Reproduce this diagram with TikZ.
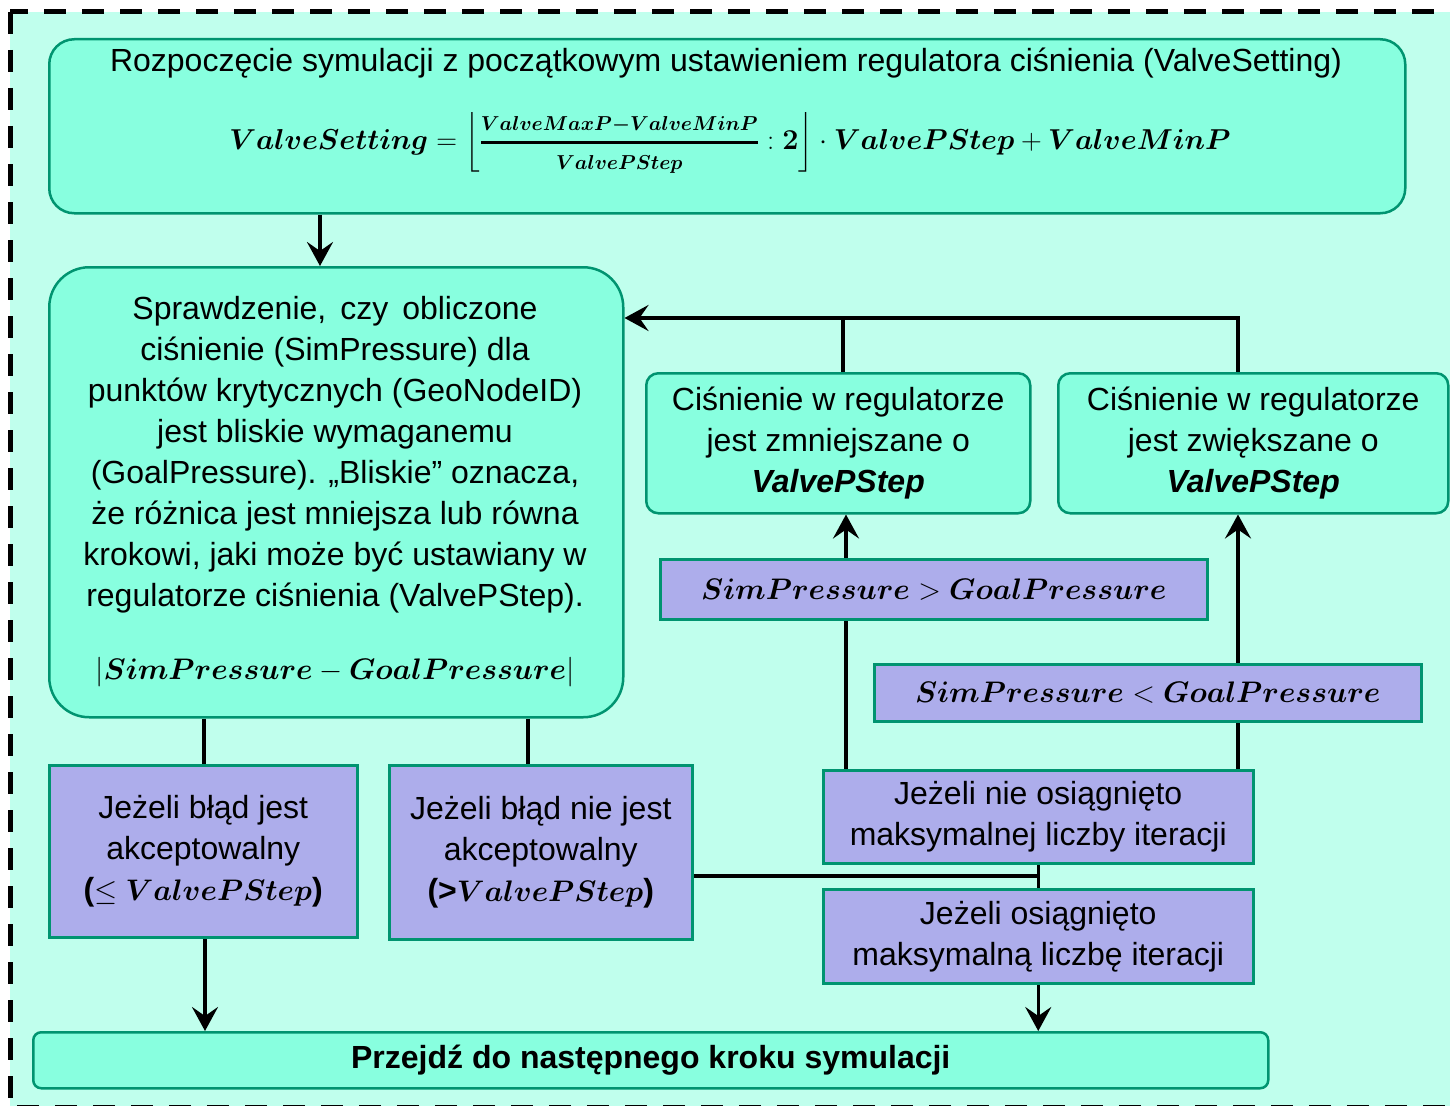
\documentclass[tikz,border=0pt]{standalone}
\usepackage{fix-cm}
\usepackage{amsmath,bm}
\usepackage[no-math]{fontspec}
\setmainfont{Liberation Sans}
\usetikzlibrary{arrows.meta}

\definecolor{framebg}{RGB}{192,255,237}
\definecolor{aqua}{RGB}{136,255,223}
\definecolor{edgegreen}{RGB}{0,148,112}
\definecolor{lav}{RGB}{173,173,235}

\pgfdeclarelayer{back}
\pgfdeclarelayer{wires}
\pgfsetlayers{back,wires,main}

% bold italic identifiers set as math
\newcommand{\bv}[1]{\bm{#1}}
\newcommand{\mathsize}{\fontsize{29.7}{41}\selectfont}

\tikzset{
  txt/.style={font=\fontsize{32}{41}\selectfont, align=center, inner sep=0pt},
  greenbox/.style={txt, draw=edgegreen, line width=2.5pt, fill=aqua, anchor=north west},
  lavbox/.style={txt, draw=edgegreen, line width=2.5pt, fill=lav, anchor=north west},
  conn/.style={line width=3.5pt, black},
  arr/.style={conn, -{Stealth[length=24pt,width=26pt,inset=9pt]}},
}

\begin{document}
\begin{tikzpicture}[x=1pt,y=-1pt]
\useasboundingbox (0,0) rectangle (1450,1105);

% dashed outer frame
\begin{pgfonlayer}{back}
  \fill[white] (0,0) rectangle (1450,1105);
  \draw[line width=5pt, dash pattern=on 22pt off 16pt, fill=framebg]
    (10,12) rectangle (1470,1107);
\end{pgfonlayer}

% start box
\node[greenbox, rounded corners=25pt, minimum width=1356pt, minimum height=174pt]
  (start) at (48,38) {};
\node[txt] (starttext) at (726,63) {Rozpoczęcie symulacji z początkowym ustawieniem regulatora ciśnienia (ValveSetting)};
\node[txt, font=\fontsize{28.8}{41}\selectfont] (startformula) at (730,143)
  {$\bv{ValveSetting} = \left\lfloor \genfrac{}{}{2.4pt}{0}{\scriptstyle\bv{ValveMaxP-ValveMinP}}{\scriptstyle\bv{ValvePStep}} : \bv{2} \right\rfloor \cdot \bv{ValvePStep} + \bv{ValveMinP}$};

% check box
\node[greenbox, rounded corners=40pt, minimum width=574pt, minimum height=450pt]
  (check) at (48,266) {};
\node[txt] (checktext) at (335,455) {Sprawdzenie,\hspace{14pt}czy\hspace{14pt}obliczone\\
  ciśnienie (SimPressure) dla\\
  punktów krytycznych (GeoNodeID)\\
  jest bliskie wymaganemu\\
  (GoalPressure). „Bliskie” oznacza,\\
  że różnica jest mniejsza lub równa\\
  krokowi, jaki może być ustawiany w\\
  regulatorze ciśnienia (ValvePStep).};
\node[txt, font=\mathsize] (checkformula) at (335,672) {$|\bv{SimPressure} - \bv{GoalPressure}|$};

% adjustment boxes
\node[greenbox, rounded corners=12pt, minimum width=384pt, minimum height=140pt]
  (dec) at (645,372) {Ciśnienie w regulatorze\\ jest zmniejszane o\\ \textbf{\textit{ValvePStep}}};
\node[greenbox, rounded corners=12pt, minimum width=390pt, minimum height=140pt]
  (inc) at (1057,372) {Ciśnienie w regulatorze\\ jest zwiększane o\\ \textbf{\textit{ValvePStep}}};

% conditions
\node[lavbox, font=\mathsize, minimum width=547pt, minimum height=60pt]
  (gt) at (659,558) {$\bv{SimPressure} > \bv{GoalPressure}$};
\node[lavbox, font=\mathsize, minimum width=547pt, minimum height=57pt]
  (lt) at (873,663) {$\bv{SimPressure} < \bv{GoalPressure}$};
\node[lavbox, minimum width=430pt, minimum height=93pt]
  (notmax) at (822,769) {Jeżeli nie osiągnięto\\ maksymalnej liczby iteracji};
\node[lavbox, minimum width=430pt, minimum height=94pt]
  (ismax) at (822,888) {Jeżeli osiągnięto\\ maksymalną liczbę iteracji};
\node[lavbox, minimum width=308pt, minimum height=172pt]
  (ok) at (48,764) {Jeżeli błąd jest\\ akceptowalny\\ \textbf{(}{\mathsize$\leq \bv{ValvePStep}$}\textbf{)}};
\node[lavbox, minimum width=303pt, minimum height=174pt]
  (notok) at (388,764) {Jeżeli błąd nie jest\\ akceptowalny\\ \textbf{(>}{\mathsize$\bv{ValvePStep}$}\textbf{)}};

% next step
\node[greenbox, rounded corners=8pt, minimum width=1235pt, minimum height=56pt]
  (next) at (32,1031) {\textbf{Przejdź do następnego kroku symulacji}};

% junction points
\coordinate (fbl) at (843,318);
\coordinate (fbr) at (1238,318);
\coordinate (upl) at (846,0);
\coordinate (upr) at (1238,0);
\coordinate (join) at (1037,876);

\begin{pgfonlayer}{wires}
  \draw[arr] ([xshift=272pt]start.south west) -- ([xshift=272pt]check.north west);
  \draw[conn] (dec.north -| fbl) -- (fbl) -- (fbr) -- (inc.north -| fbr);
  \draw[arr] (fbl) -- (fbl -| check.east);
  \draw[arr] (notmax.north -| upl) -- (dec.south -| upl);
  \draw[arr] (notmax.north -| upr) -- (inc.south -| upr);
  \draw[conn] ([xshift=156pt]check.south west) -- ([xshift=156pt]ok.north west);
  \draw[conn] ([xshift=480pt]check.south west) -- ([xshift=140pt]notok.north west);
  \draw[conn] (notok.east |- join) -- (join);
  \draw[conn] (notmax.south) -- (ismax.north);
  \draw[arr] ([xshift=157pt]ok.south west) -- ([xshift=173pt]next.south west |- next.north);
  \draw[arr] (ismax.south) -- (ismax.south |- next.north);
\end{pgfonlayer}
\end{tikzpicture}
\end{document}
